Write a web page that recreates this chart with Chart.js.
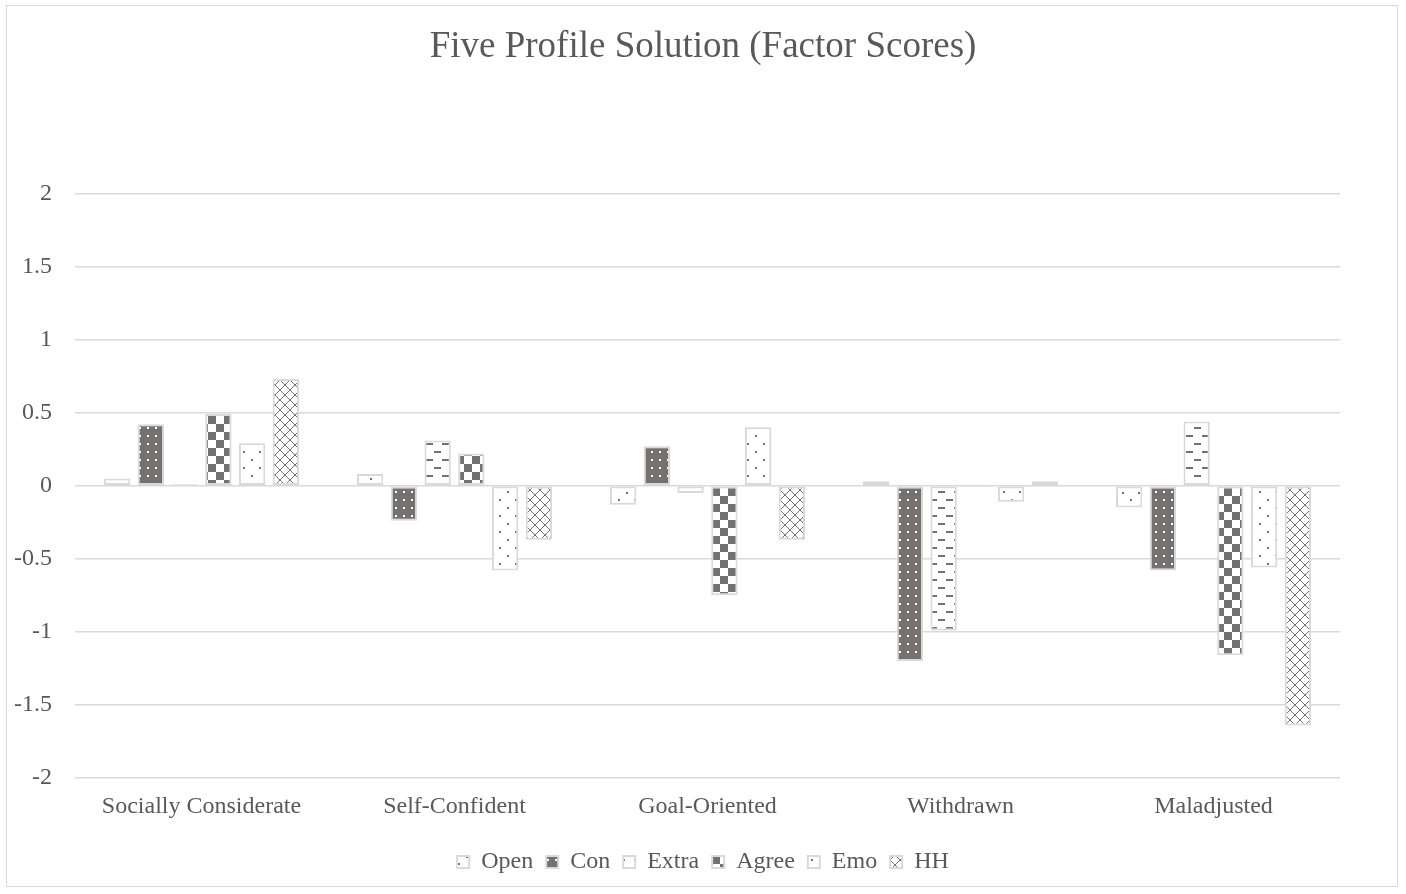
<!DOCTYPE html>
<html>
<head>
<meta charset="utf-8">
<script src="https://cdn.jsdelivr.net/npm/chart.js@4.4.0/dist/chart.umd.min.js"></script>
<style>
  html, body { margin: 0; padding: 0; background: #fff; }
  #wrap { position: absolute; left: 0; top: 0; width: 1406px; height: 894px; }
  #frame { position: absolute; left: 6px; top: 5px; width: 1392px; height: 882px; border: 1px solid #d9d9d9; box-sizing: border-box; pointer-events: none; }
</style>
</head>
<body>
<div id="wrap"><canvas id="c" width="1406" height="894"></canvas></div>
<div id="frame"></div>
<script>
const categories = ["Socially Considerate", "Self-Confident", "Goal-Oriented", "Withdrawn", "Maladjusted"];
const seriesNames = ["Open", "Con", "Extra", "Agree", "Emo", "HH"];
const openVals  = [0.05, 0.08, -0.13, 0.03, -0.15];
const conVals   = [0.42, -0.24, 0.27, -1.20, -0.58];
const extraVals = [0.01, 0.31, -0.05, -0.99, 0.44];
const agreeVals = [0.49, 0.22, -0.75, -0.01, -1.16];
const emoVals   = [0.29, -0.58, 0.40, -0.11, -0.56];
const hhVals    = [0.73, -0.37, -0.37, 0.03, -1.64];
const yTicks = [2, 1.5, 1, 0.5, 0, -0.5, -1, -1.5, -2];

const DARK = '#767171';
function mk(w, h, draw) {
  const cv = document.createElement('canvas');
  cv.width = w; cv.height = h;
  const g = cv.getContext('2d');
  draw(g, w, h);
  return document.getElementById('c').getContext('2d').createPattern(cv, 'repeat');
}
const patOpen = mk(16, 14, (g) => {
  g.fillStyle = '#fff'; g.fillRect(0, 0, 16, 14);
  g.fillStyle = DARK; g.fillRect(2, 2, 2, 2); g.fillRect(10, 9, 2, 2);
});
const patCon = mk(8, 8, (g) => {
  g.fillStyle = DARK; g.fillRect(0, 0, 8, 8);
  g.fillStyle = '#fff'; g.fillRect(3, 3, 2, 2);
});
const patExtra = mk(16, 16, (g) => {
  g.fillStyle = '#fff'; g.fillRect(0, 0, 16, 16);
  g.fillStyle = DARK; g.fillRect(2, 3, 7, 2); g.fillRect(10, 11, 7, 2); g.fillRect(0, 11, 1, 2);
});
const patAgree = mk(16, 16, (g) => {
  g.fillStyle = '#fff'; g.fillRect(0, 0, 16, 16);
  g.fillStyle = DARK; g.fillRect(0, 0, 8, 8); g.fillRect(8, 8, 8, 8);
});
const patEmo = mk(16, 16, (g) => {
  g.fillStyle = '#fff'; g.fillRect(0, 0, 16, 16);
  g.fillStyle = DARK; g.fillRect(3, 3, 2, 2); g.fillRect(11, 11, 2, 2);
});
const patHH = mk(10, 10, (g) => {
  g.fillStyle = '#fff'; g.fillRect(0, 0, 10, 10);
  g.fillStyle = DARK;
  for (let i = 0; i < 10; i++) { g.fillRect(i, i, 1, 1); g.fillRect(9 - i, i, 1, 1); }
});

const vals = [openVals, conVals, extraVals, agreeVals, emoVals, hhVals];
const pats = [patOpen, patCon, patExtra, patAgree, patEmo, patHH];
const datasets = seriesNames.map((n, i) => ({
  label: n,
  data: vals[i],
  backgroundColor: pats[i],
  borderColor: '#d9d9d9',
  borderWidth: 2,
  borderSkipped: false,
  categoryPercentage: 0.8,
  barPercentage: 0.78
}));

const FONT = "'Liberation Serif', 'Times New Roman', serif";
const TXT = '#595959';
new Chart(document.getElementById('c'), {
  type: 'bar',
  data: { labels: categories, datasets },
  options: {
    responsive: false,
    animation: false,
    layout: { padding: { left: 0, right: 0, top: 0, bottom: 10 } },
    plugins: {
      title: {
        display: true,
        text: 'Five Profile Solution (Factor Scores)',
        color: TXT,
        font: { family: FONT, size: 37, weight: 'normal' },
        padding: { top: 25, bottom: 124 }
      },
      legend: {
        position: 'bottom',
        labels: {
          color: TXT,
          font: { family: FONT, size: 24 },
          boxWidth: 12, boxHeight: 12,
          padding: 13
        }
      },
      tooltip: { enabled: false }
    },
    scales: {
      x: {
        afterFit: (s) => { s.height = 59; },
        grid: { display: false, drawTicks: false },
        border: { display: false },
        ticks: { color: TXT, font: { family: FONT, size: 24 }, padding: 14, maxRotation: 0 }
      },
      y: {
        min: -2, max: 2,
        afterFit: (s) => { s.width = 75; },
        afterBuildTicks: (s) => { s.ticks = yTicks.map(v => ({ value: v })); },
        grid: { color: '#d9d9d9', lineWidth: 1.5, drawTicks: false },
        border: { display: false },
        ticks: {
          color: TXT, font: { family: FONT, size: 24 }, padding: 23,
          callback: (v) => String(v)
        }
      },
      yRight: {
        position: 'right',
        display: true,
        afterFit: (s) => { s.width = 66; },
        grid: { display: false, drawOnChartArea: false, drawTicks: false },
        border: { display: false },
        ticks: { display: false }
      }
    }
  }
});
</script>
</body>
</html>
